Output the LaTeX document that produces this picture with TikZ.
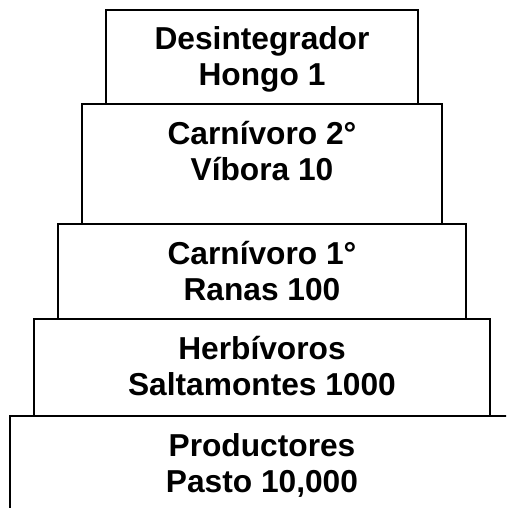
\documentclass[tikz,border=0pt]{standalone}
\usepackage{fontspec}
\setmainfont{Liberation Sans}
\usepackage{tikz}
\usetikzlibrary{positioning}

\begin{document}
\begin{tikzpicture}[
  x=1pt, y=-1pt,
  level/.style={rectangle, draw, line width=2pt, inner sep=0pt, anchor=north west},
  txt/.style={font=\bfseries\fontsize{31.7}{36}\selectfont, align=center, anchor=base, inner sep=0pt, yshift=-77pt}
]
\clip (0,0) rectangle (506,508);

% levels of the pyramid, top to bottom
\node[level, minimum width=312pt, minimum height=94pt]  (dec)  at (105,9)   {};
\node[level, minimum width=360pt, minimum height=120pt] (car2) at (81,103)  {};
\node[level, minimum width=408pt, minimum height=95pt]  (car1) at (57,223)  {};
\node[level, minimum width=456pt, minimum height=97pt]  (herb) at (33,318)  {};
\node[level, minimum width=520pt, minimum height=130pt] (prod) at (9,415)   {};

\node[txt] (tdec)  at (dec.north)  {Desintegrador\\Hongo 1};
\node[txt] (tcar2) at (car2.north) {Carnívoro 2°\\Víbora 10};
\node[txt] (tcar1) at (car1.north) {Carnívoro 1°\\Ranas 100};
\node[txt] (therb) at (herb.north) {Herbívoros\\Saltamontes 1000};
\node[txt] (tprod) at (prod.north -| dec.north) {Productores\\Pasto 10,000};
\end{tikzpicture}
\end{document}
